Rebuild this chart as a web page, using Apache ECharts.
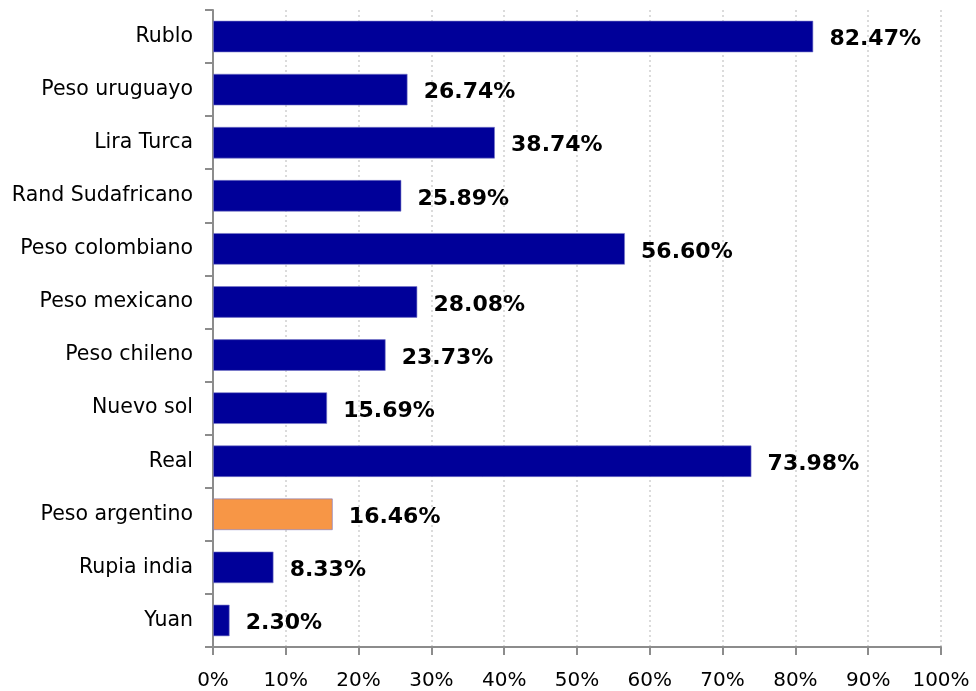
<!DOCTYPE html>
<html>
<head>
<meta charset="utf-8">
<script src="https://cdn.jsdelivr.net/npm/echarts@6/dist/echarts.min.js"></script>
<style>html,body{margin:0;padding:0;background:#fff}#c{width:976px;height:691px}</style>
</head>
<body>
<div id="c"></div>
<script>
const categories = ['Rublo','Peso uruguayo','Lira Turca','Rand Sudafricano','Peso colombiano','Peso mexicano','Peso chileno','Nuevo sol','Real','Peso argentino','Rupia india','Yuan'];
const values = [82.47, 26.74, 38.74, 25.89, 56.60, 28.08, 23.73, 15.69, 73.98, 16.46, 8.33, 2.30];
const highlight = 'Peso argentino';

const chart = echarts.init(document.getElementById('c'));
chart.setOption({
  animation: false,
  grid: {left: 213, right: 35, top: 10, bottom: 43, containLabel: false},
  xAxis: {
    type: 'value', min: 0, max: 100, interval: 10,
    axisLine: {show: true, lineStyle: {color: '#8c8c8c', width: 2}},
    axisTick: {show: true, length: 8, lineStyle: {color: '#8c8c8c', width: 2}},
    axisLabel: {formatter: '{value}%', color: '#000', fontFamily: 'DejaVu Sans', fontSize: 20, margin: 24},
    splitLine: {show: true, lineStyle: {color: '#cfcfcf', type: [2, 3], width: 1.5}}
  },
  yAxis: {
    type: 'category', data: categories, inverse: true,
    axisLine: {show: true, lineStyle: {color: '#8c8c8c', width: 2}},
    axisTick: {show: true, length: 8, lineStyle: {color: '#8c8c8c', width: 2}},
    axisLabel: {color: '#000', fontFamily: 'DejaVu Sans', fontSize: 20.5, margin: 20},
    splitLine: {show: false}
  },
  series: [{
    type: 'bar',
    data: values.map((v, i) => ({
      value: v,
      itemStyle: {color: categories[i] === highlight ? '#F79646' : '#000099'}
    })),
    barCategoryGap: '40%',
    itemStyle: {borderColor: 'rgba(120,120,200,0.6)', borderWidth: 1},
    label: {
      show: true, position: 'right', distance: 16, offset: [0, 3],
      formatter: p => p.value.toFixed(2) + '%',
      color: '#000', fontFamily: 'DejaVu Sans', fontWeight: 'bold', fontSize: 22
    }
  }]
});
</script>
</body>
</html>
